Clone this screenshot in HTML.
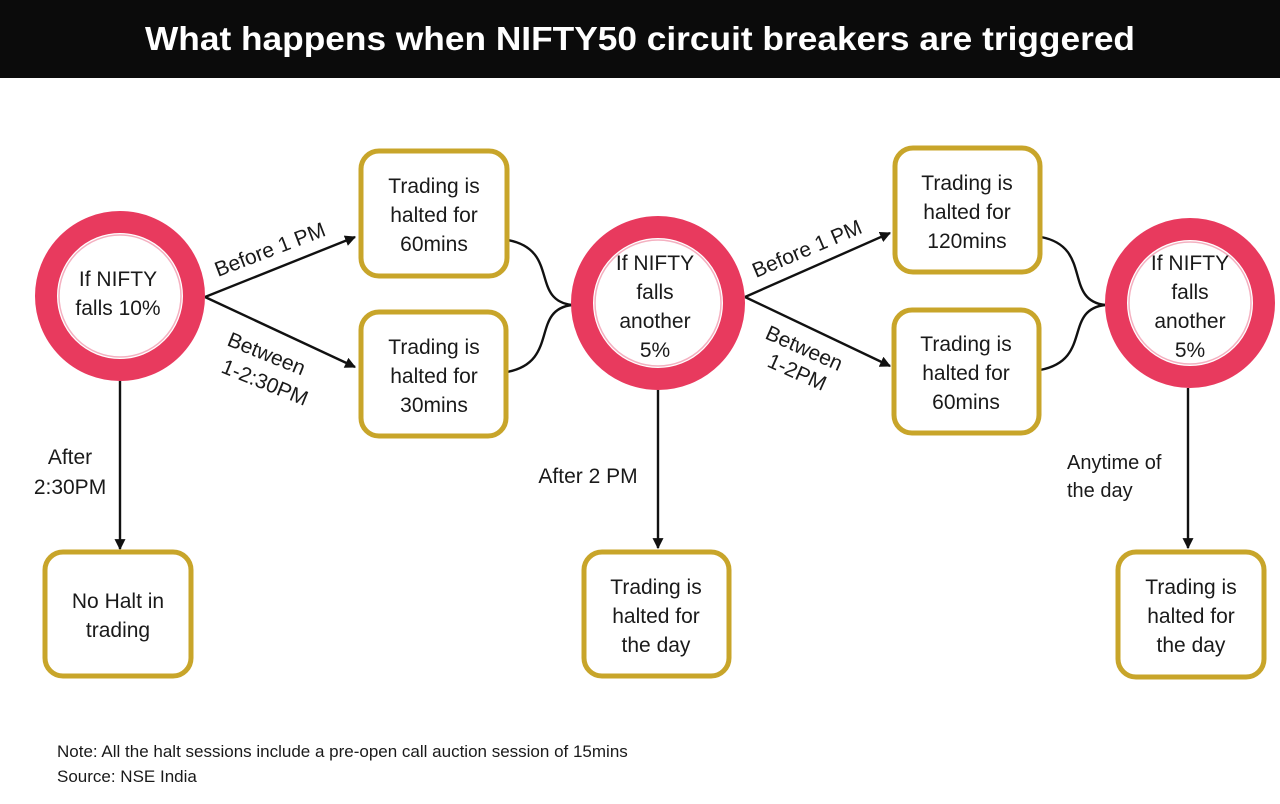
<!DOCTYPE html>
<html><head><meta charset="utf-8"><style>
body{margin:0;width:1280px;height:799px;background:#fff;overflow:hidden;font-family:"Liberation Sans",sans-serif}
</style></head><body>
<svg width="1280" height="799" viewBox="0 0 1280 799" xmlns="http://www.w3.org/2000/svg" font-family="Liberation Sans, sans-serif">
<defs><marker id="a" viewBox="0 0 10 10" refX="9" refY="5" markerWidth="11" markerHeight="11" markerUnits="userSpaceOnUse" orient="auto"><path d="M0,0L10,5L0,10z" fill="#111"/></marker></defs>
<rect x="0" y="0" width="1280" height="78" fill="#0b0b0b"/>
<text x="145" y="50" fill="#fff" font-size="33" font-weight="bold" textLength="990" lengthAdjust="spacingAndGlyphs">What happens when NIFTY50 circuit breakers are triggered</text>
<g fill="none" stroke="#111" stroke-width="2.4">
<path d="M205,297L355,237" marker-end="url(#a)"/>
<path d="M205,297L355,367" marker-end="url(#a)"/>
<path d="M745,297L890,233" marker-end="url(#a)"/>
<path d="M745,297L890,366" marker-end="url(#a)"/>
<path d="M120,381L120,549" marker-end="url(#a)"/>
<path d="M658,390L658,548" marker-end="url(#a)"/>
<path d="M1188,388L1188,548" marker-end="url(#a)"/>
<path d="M508,240C560,250 530,300 572,305"/>
<path d="M507,372C560,362 530,310 572,305"/>
<path d="M1041,237C1093,247 1063,300 1105,305"/>
<path d="M1040,370C1093,360 1063,310 1105,305"/>
</g>
<g fill="#fff" stroke="#e83a5e" stroke-width="22">
<circle cx="120" cy="296" r="74"/><circle cx="658" cy="303" r="76"/><circle cx="1190" cy="303" r="74"/>
</g>
<g fill="none" stroke="#f4b0c0" stroke-width="1.5">
<circle cx="120" cy="296" r="61"/><circle cx="658" cy="303" r="63"/><circle cx="1190" cy="303" r="61"/>
</g>
<g fill="#fff" stroke="#c8a52a" stroke-width="5">
<rect x="361" y="151" width="146" height="125" rx="18"/>
<rect x="361" y="312" width="145" height="124" rx="18"/>
<rect x="895" y="148" width="145" height="124" rx="18"/>
<rect x="894" y="310" width="145" height="123" rx="18"/>
<rect x="45" y="552" width="146" height="124" rx="18"/>
<rect x="584" y="552" width="145" height="124" rx="18"/>
<rect x="1118" y="552" width="146" height="125" rx="18"/>
</g>
<g font-size="21" fill="#1a1a1a" text-anchor="middle">
<text x="434" y="193">Trading is</text><text x="434" y="222">halted for</text><text x="434" y="251">60mins</text>
<text x="434" y="354">Trading is</text><text x="434" y="383">halted for</text><text x="434" y="412">30mins</text>
<text x="967" y="190">Trading is</text><text x="967" y="219">halted for</text><text x="967" y="248">120mins</text>
<text x="966" y="351">Trading is</text><text x="966" y="380">halted for</text><text x="966" y="409">60mins</text>
<text x="118" y="608">No Halt in</text><text x="118" y="637">trading</text>
<text x="656" y="594">Trading is</text><text x="656" y="623">halted for</text><text x="656" y="652">the day</text>
<text x="1191" y="594">Trading is</text><text x="1191" y="623">halted for</text><text x="1191" y="652">the day</text>
<text x="118" y="286">If NIFTY</text><text x="118" y="315">falls 10%</text>
<text x="655" y="270">If NIFTY</text><text x="655" y="299">falls</text><text x="655" y="328">another</text><text x="655" y="357">5%</text>
<text x="1190" y="270">If NIFTY</text><text x="1190" y="299">falls</text><text x="1190" y="328">another</text><text x="1190" y="357">5%</text>
<text x="70" y="464">After</text><text x="70" y="494">2:30PM</text>
<text x="588" y="483">After 2 PM</text>
</g>
<g font-size="20" fill="#1a1a1a">
<text x="1067" y="469">Anytime of</text><text x="1067" y="497">the day</text>
<text transform="translate(218,277) rotate(-21)" font-size="21">Before 1 PM</text>
<text transform="translate(756,278) rotate(-23)" font-size="21">Before 1 PM</text>
<text transform="translate(226,345) rotate(22)" font-size="21">Between</text>
<text transform="translate(220,372) rotate(22)" font-size="21">1-2:30PM</text>
<text transform="translate(764,338) rotate(24)" font-size="21">Between</text>
<text transform="translate(766,366) rotate(24)" font-size="21">1-2PM</text>
<text x="57" y="757" font-size="17">Note: All the halt sessions include a pre-open call auction session of 15mins</text>
<text x="57" y="782" font-size="17">Source: NSE India</text>
</g>
</svg>
</body></html>
